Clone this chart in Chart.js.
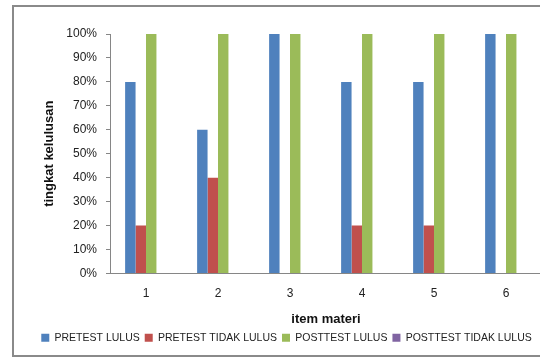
<!DOCTYPE html>
<html>
<head>
<meta charset="utf-8">
<script src="https://cdn.jsdelivr.net/npm/chart.js@4/dist/chart.umd.min.js"></script>
<style>
  html, body { margin: 0; padding: 0; background: #fff; }
  #wrap { position: relative; width: 540px; height: 361px; overflow: hidden; }
  #frame {
    position: absolute; left: 12px; top: 5px; width: 540px; height: 352px;
    border: 2px solid #8a8a8a; box-sizing: border-box;
  }
  canvas { position: absolute; left: 0; top: 0; }
</style>
</head>
<body>
<div id="wrap">
  <div id="frame"></div>
  <canvas id="grafik" width="560" height="361"></canvas>
</div>
<script>
// Data kelulusan per item materi (persen)
const itemMateri = ['1', '2', '3', '4', '5', '6'];
const pretestLulus = [80, 60, 100, 80, 80, 100];
const pretestTidakLulus = [20, 40, 0, 20, 20, 0];
const posttestLulus = [100, 100, 100, 100, 100, 100];
const posttestTidakLulus = [0, 0, 0, 0, 0, 0];
const tickPersen = [0, 10, 20, 30, 40, 50, 60, 70, 80, 90, 100];

const fontUmum = "'Liberation Sans', Arial, sans-serif";
const abu = '#868686';

// geser legenda sedikit ke kanan
const geserLegenda = {
    id: 'geserLegenda',
    afterLayout(chart) {
        const lg = chart.legend;
        if (lg) { lg.left += 9; lg.right += 9; }
    }
};

const ctx = document.getElementById('grafik').getContext('2d');
new Chart(ctx, {
    type: 'bar',
    data: {
        labels: itemMateri,
        datasets: [
            { label: 'PRETEST LULUS', data: pretestLulus, backgroundColor: '#4F81BD' },
            { label: 'PRETEST TIDAK LULUS', data: pretestTidakLulus, backgroundColor: '#C0504D' },
            { label: 'POSTTEST LULUS', data: posttestLulus, backgroundColor: '#9BBB59' },
            { label: 'POSTTEST TIDAK LULUS', data: posttestTidakLulus, backgroundColor: '#8064A2' }
        ]
    },
    plugins: [geserLegenda],
    options: {
        responsive: false,
        animation: false,
        categoryPercentage: 0.58,
        barPercentage: 1.0,
        layout: { padding: { left: 13, right: 18, top: 34, bottom: 8 } },
        plugins: {
            tooltip: { enabled: false },
            legend: {
                position: 'bottom',
                labels: {
                    boxWidth: 8,
                    boxHeight: 8,
                    padding: 5,
                    color: '#222',
                    font: { family: fontUmum, size: 10.5 }
                }
            }
        },
        scales: {
            x: {
                grid: { display: false },
                border: { color: abu },
                ticks: { color: '#222', padding: 5, font: { family: fontUmum, size: 12 } },
                title: {
                    display: true,
                    text: 'item materi',
                    color: '#111',
                    padding: { top: 6, bottom: 0 },
                    font: { family: fontUmum, size: 13, weight: 'bold' }
                },
                afterFit: s => { s.height = 54; }
            },
            y: {
                min: 0,
                max: 100,
                afterBuildTicks: s => { s.ticks = tickPersen.map(v => ({ value: v })); },
                grid: { drawOnChartArea: false, tickLength: 4, color: abu },
                border: { color: abu },
                ticks: {
                    color: '#222',
                    padding: 9,
                    font: { family: fontUmum, size: 12 },
                    callback: v => v + '%'
                },
                title: {
                    display: true,
                    text: 'tingkat kelulusan',
                    color: '#111',
                    padding: { top: 29, bottom: 0 },
                    font: { family: fontUmum, size: 13, weight: 'bold' }
                },
                afterFit: s => { s.width = 97; }
            }
        }
    }
});
</script>
</body>
</html>
